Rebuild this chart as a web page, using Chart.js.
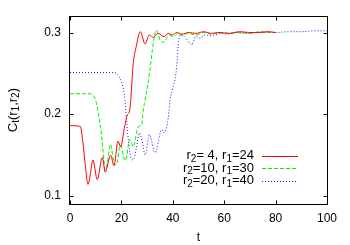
<!DOCTYPE html>
<html><head><meta charset="utf-8">
<script src="https://cdn.jsdelivr.net/npm/chart.js@4/dist/chart.umd.min.js"></script>
<style>html,body{margin:0;padding:0;background:#fff;}canvas{display:block;}</style>
</head><body>
<canvas id="c" width="350" height="245"></canvas>
<script>
// series 1: r2=4, r1=24
const tRed = [0, 4, 5, 6, 7, 8, 8.9, 10.6, 12.6, 13.7, 15.8, 17.1, 18.7, 19.7, 21.2, 22.3, 23.3, 24.6, 25.7, 27.4, 29.2, 30.9, 32.4, 34.2, 36.6, 38.2, 39.8, 41.5, 43.5, 46, 49, 52, 55, 58, 62, 66, 70, 74, 77, 80];
const cRed = [0.186, 0.185, 0.166, 0.136, 0.114, 0.128, 0.144, 0.120, 0.147, 0.129, 0.150, 0.137, 0.167, 0.160, 0.184, 0.199, 0.206, 0.262, 0.282, 0.301, 0.286, 0.297, 0.294, 0.299, 0.295, 0.299, 0.297, 0.300, 0.298, 0.300, 0.299, 0.301, 0.299, 0.300, 0.299, 0.301, 0.300, 0.300, 0.301, 0.300];
// series 2: r2=10, r1=30
const tGreen = [0, 8, 9, 10.2, 11.2, 12.2, 13, 13.7, 14.5, 15.7, 17.4, 18.0, 19.6, 21.5, 23.3, 24.6, 26.6, 27.9, 28.5, 29.2, 31.1, 32.4, 33.5, 35.2, 36.5, 38.6, 40.2, 42, 44, 46, 49, 52, 55, 58, 62, 66, 70, 74, 77, 80];
const cGreen = [0.225, 0.225, 0.223, 0.215, 0.197, 0.177, 0.150, 0.132, 0.140, 0.163, 0.138, 0.138, 0.162, 0.143, 0.169, 0.160, 0.185, 0.187, 0.205, 0.217, 0.254, 0.287, 0.303, 0.290, 0.288, 0.297, 0.295, 0.299, 0.296, 0.299, 0.297, 0.300, 0.298, 0.300, 0.299, 0.300, 0.299, 0.301, 0.300, 0.300];
// series 3: r2=20, r1=40
const tBlue = [0, 17.5, 18.8, 20, 20.8, 21.4, 22, 22.7, 23.6, 24.6, 25.8, 27, 28, 29.2, 30.9, 33.1, 35.7, 36.6, 38.2, 38.9, 40, 40.9, 41.5, 42.1, 43, 44.5, 46.5, 47.3, 49, 50.6, 52.5, 54.5, 56.4, 58.5, 61, 64, 68, 72, 76, 80, 85, 90, 95, 100];
const cBlue = [0.251, 0.251, 0.247, 0.240, 0.230, 0.217, 0.193, 0.169, 0.148, 0.144, 0.158, 0.177, 0.168, 0.150, 0.175, 0.153, 0.181, 0.177, 0.195, 0.217, 0.232, 0.243, 0.258, 0.285, 0.297, 0.295, 0.287, 0.285, 0.295, 0.293, 0.297, 0.296, 0.297, 0.299, 0.298, 0.300, 0.299, 0.300, 0.301, 0.300, 0.301, 0.301, 0.302, 0.302];

const xTicks = [0, 20, 40, 60, 80, 100];
const yTicks = [0.1, 0.2, 0.3];
const seriesLabels = ['r_2= 4, r_1=24', 'r_2=10, r_1=30', 'r_2=20, r_1=40'];
const yTitle = 'C_t(r_1,r_2)';
const xTitle = 't';

const FONT = '"Liberation Sans", Arial, sans-serif';

function parseRich(s) {
  const segs = [];
  let buf = '';
  for (let i = 0; i < s.length; i++) {
    if (s[i] === '_' && i + 1 < s.length) {
      if (buf) { segs.push([buf, false]); buf = ''; }
      segs.push([s[i + 1], true]); i++;
    } else buf += s[i];
  }
  if (buf) segs.push([buf, false]);
  return segs;
}
function drawRich(ctx, s, x, y, align, size) {
  const segs = parseRich(s);
  const main = size + 'px ' + FONT, sub = Math.round(size * 0.8) + 'px ' + FONT;
  let w = 0;
  segs.forEach(([t, isSub]) => { ctx.font = isSub ? sub : main; w += ctx.measureText(t).width; });
  let cx = align === 'right' ? x - w : align === 'center' ? x - w / 2 : x;
  ctx.textBaseline = 'middle'; ctx.textAlign = 'left'; ctx.fillStyle = '#000';
  segs.forEach(([t, isSub]) => {
    ctx.font = isSub ? sub : main;
    ctx.fillText(t, cx, isSub ? y + 3.5 : y);
    cx += ctx.measureText(t).width;
  });
}

const decor = {
  id: 'decor',
  afterDraw(chart) {
    const { ctx, chartArea: a, scales: { x, y } } = chart;
    ctx.save();
    ctx.strokeStyle = '#000'; ctx.lineWidth = 1; ctx.setLineDash([]);
    const L = Math.round(a.left) - 0.5, R = Math.round(a.right) + 0.5, T = Math.round(a.top) + 0.5, B = Math.round(a.bottom) + 0.5;
    ctx.strokeRect(L, T, R - L, B - T);
    ctx.beginPath();
    xTicks.forEach(v => {
      const px = Math.round(x.getPixelForValue(v)) + 0.5;
      ctx.moveTo(px, B); ctx.lineTo(px, B - 4);
      ctx.moveTo(px, T); ctx.lineTo(px, T + 4);
    });
    yTicks.forEach(v => {
      const py = Math.round(y.getPixelForValue(v)) + 0.5;
      ctx.moveTo(L, py); ctx.lineTo(L + 4, py);
      ctx.moveTo(R, py); ctx.lineTo(R - 4, py);
    });
    ctx.stroke();
    // legend
    chart.data.datasets.forEach((ds, i) => {
      const ly = 155.7 + i * 12.5;
      drawRich(ctx, seriesLabels[i], 254, ly, 'right', 13);
      ctx.strokeStyle = ds.borderColor; ctx.lineWidth = 1;
      ctx.setLineDash(ds.borderDash || []);
      ctx.beginPath(); ctx.moveTo(262, Math.round(ly) + 0.5); ctx.lineTo(298, Math.round(ly) + 0.5); ctx.stroke();
    });
    ctx.setLineDash([]);
    // axis titles
    ctx.save();
    ctx.translate(13, (a.top + a.bottom) / 2);
    ctx.rotate(-Math.PI / 2);
    drawRich(ctx, yTitle, 0, 0, 'center', 13);
    ctx.restore();
    drawRich(ctx, xTitle, (a.left + a.right) / 2, 238, 'center', 12);
    ctx.restore();
  }
};

const mk = (t, c) => t.map((v, i) => ({ x: v, y: c[i] }));

new Chart(document.getElementById('c'), {
  type: 'line',
  data: {
    datasets: [
      { label: seriesLabels[0], data: mk(tRed, cRed), borderColor: '#ff0000', borderWidth: 1, pointRadius: 0, cubicInterpolationMode: 'monotone' },
      { label: seriesLabels[1], data: mk(tGreen, cGreen), borderColor: '#00f000', borderWidth: 1, borderDash: [4, 2], pointRadius: 0, cubicInterpolationMode: 'monotone' },
      { label: seriesLabels[2], data: mk(tBlue, cBlue), borderColor: '#1a1aff', borderWidth: 1, borderDash: [1, 2], pointRadius: 0, cubicInterpolationMode: 'monotone' }
    ]
  },
  options: {
    responsive: false, animation: false, events: [],
    layout: { padding: { top: 16, right: 23, left: 0, bottom: 0 } },
    plugins: { legend: { display: false }, tooltip: { enabled: false } },
    scales: {
      x: {
        type: 'linear', min: 0, max: 100,
        grid: { display: false, drawTicks: false }, border: { display: false },
        ticks: { color: '#000', font: { family: FONT, size: 12 }, padding: 7, maxRotation: 0 },
        afterBuildTicks: s => { s.ticks = xTicks.map(v => ({ value: v })); },
        afterFit: s => { s.height = 41; }
      },
      y: {
        type: 'linear', min: 0.09, max: 0.32,
        grid: { display: false, drawTicks: false }, border: { display: false },
        ticks: { color: '#000', font: { family: FONT, size: 12 }, padding: 9, callback: v => v.toFixed(1) },
        afterBuildTicks: s => { s.ticks = yTicks.map(v => ({ value: v })); },
        afterFit: s => { s.width = 70; }
      }
    }
  },
  plugins: [decor]
});
</script>
</body></html>
